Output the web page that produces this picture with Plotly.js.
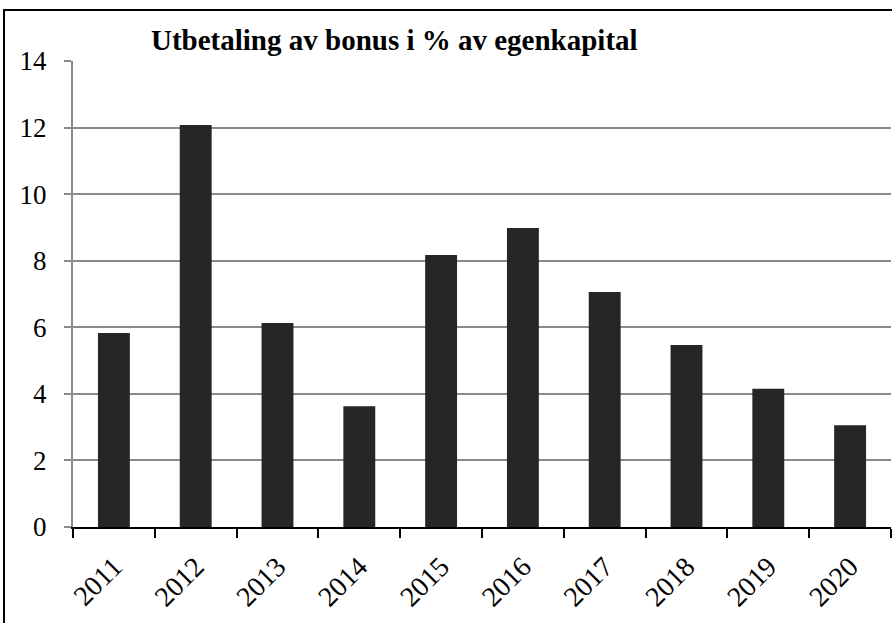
<!DOCTYPE html>
<html><head><meta charset="utf-8">
<script src="https://cdn.plot.ly/plotly-3.0.1.min.js"></script>
<style>html,body{margin:0;padding:0;background:#fff}#chart{width:892px;height:623px}</style>
</head><body><div id="chart"></div>
<script>
const years = ['2011','2012','2013','2014','2015','2016','2017','2018','2019','2020'];
const bonusPct = [5.83, 12.08, 6.13, 3.63, 8.17, 8.98, 7.06, 5.47, 4.15, 3.06];
const yTicks = [0, 2, 4, 6, 8, 10, 12, 14];
const titleText = 'Utbetaling av bonus i % av egenkapital';

const L = 73, R = 891, T = 61, B = 527;
const pw = R - L, ph = B - T;
const font = 'Liberation Serif';

Plotly.newPlot('chart', [{
  type: 'bar', x: years, y: bonusPct, width: 0.39,
  marker: {color: '#262626', line: {width: 0}},
  hoverinfo: 'skip'
}], {
  width: 892, height: 623,
  margin: {l: L, r: 892 - R, t: T, b: 623 - B, pad: 0},
  paper_bgcolor: '#fff', plot_bgcolor: '#fff',
  showlegend: false,
  font: {family: font, color: '#000', size: 26},
  title: {text: '<b>' + titleText + '</b>', font: {family: font, size: 29, color: '#000'},
    xref: 'container', yref: 'container', x: 151/892, xanchor: 'left', y: 1 - 40/623, yanchor: 'middle'},
  xaxis: {
    type: 'category', tickson: 'boundaries', ticks: 'outside', ticklen: 9, tickwidth: 2, tickcolor: '#000',
    showline: true, linecolor: '#000', linewidth: 2, showgrid: false, tickangle: -45,
    ticklabelstandoff: 10,
    tickfont: {family: font, size: 28, color: '#000'}, automargin: false
  },
  yaxis: {
    range: [0, 14], tickvals: yTicks, ticktext: yTicks.map(String), ticks: 'outside', ticklen: 7,
    tickwidth: 2, tickcolor: '#8a8a8a', showline: true, linecolor: '#8a8a8a', linewidth: 2,
    showgrid: true, gridcolor: '#8a8a8a', gridwidth: 2, zeroline: false,
    ticklabelstandoff: 12,
    tickfont: {family: font, size: 27, color: '#000'}, automargin: false
  },
  shapes: [{
    type: 'rect', xref: 'paper', yref: 'paper',
    x0: (4 - L) / pw, x1: (900 - L) / pw, y0: (B - 640) / ph, y1: (B - 10) / ph,
    line: {color: '#000', width: 2}, fillcolor: 'rgba(0,0,0,0)', layer: 'above'
  }]
}, {staticPlot: true, displayModeBar: false});
</script></body></html>
